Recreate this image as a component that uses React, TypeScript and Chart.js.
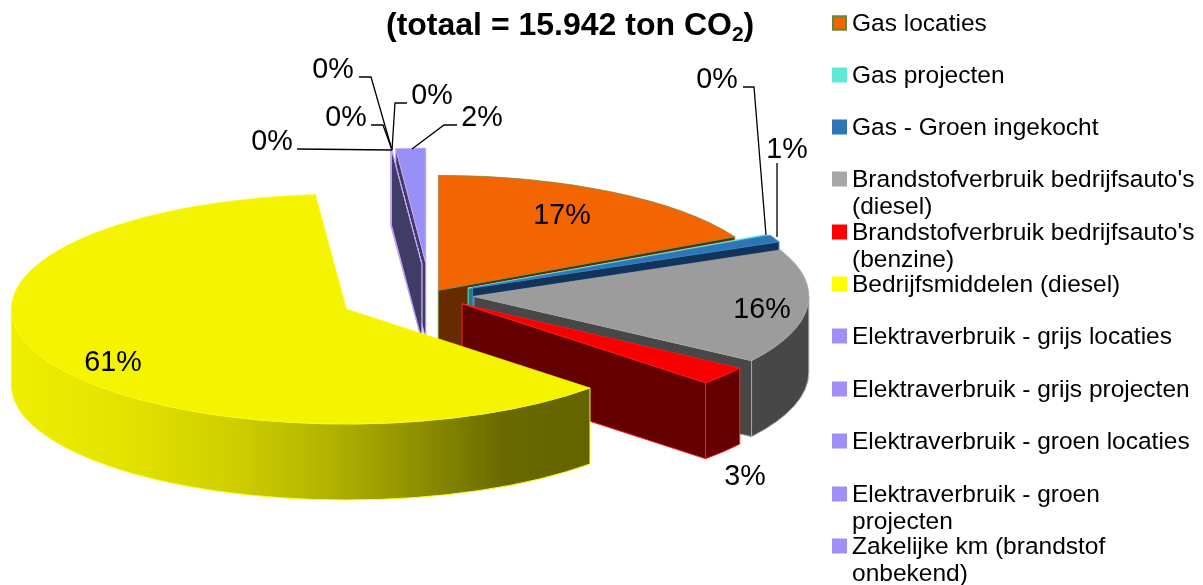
import React, { useEffect, useRef } from "react";
import { Chart, registerables, PieController } from "chart.js";

const categories = [
  "Gas locaties",
  "Gas projecten",
  "Gas - Groen ingekocht",
  "Brandstofverbruik bedrijfsauto's (diesel)",
  "Brandstofverbruik bedrijfsauto's (benzine)",
  "Bedrijfsmiddelen (diesel)",
  "Elektraverbruik - grijs locaties",
  "Elektraverbruik - grijs projecten",
  "Elektraverbruik - groen locaties",
  "Elektraverbruik - groen projecten",
  "Zakelijke km (brandstof onbekend)",
];
const shares = [17.3, 0.1, 1.0, 16.05, 2.6, 61.5, 0.01, 0.01, 0.01, 0.01, 1.43];
const shareLabels = ["17%", "0%", "1%", "16%", "3%", "61%", "0%", "0%", "0%", "0%", "2%"];
const topColors = ["#f36500", "#60e8d8", "#2e75b6", "#9c9c9c", "#f80000", "#f4f400", "#b49cf8", "#b49cf8", "#b49cf8", "#b49cf8", "#9890f6"];
const edgeColors = ["#6f8f4f", "#60e8d8", "#3a86c6", "#a8a8a8", "#ff2020", "#fafa20", "#c8a4fc", "#c8a4fc", "#c8a4fc", "#c8a4fc", "#cfa8ff"];
const wallColors = ["#662b00", "#2a7a72", "#12335a", "#474747", "#640000", "#666600", "#3f3c66", "#3f3c66", "#3f3c66", "#3f3c66", "#3f3c66"];
const legendColors = ["#f36500", "#60e8d8", "#2e75b6", "#a6a6a6", "#ff0000", "#ffff00", "#9f8ff7", "#9f8ff7", "#9f8ff7", "#9f8ff7", "#9f8ff7"];
const explode = [16, 43, 47, 44, 41, 93, 91, 91, 91, 91, 93];
const paintOrder = [10, 6, 7, 8, 9, 0, 1, 2, 3, 4, 5];

const legendLines = [
  ["Gas locaties"],
  ["Gas projecten"],
  ["Gas - Groen ingekocht"],
  ["Brandstofverbruik bedrijfsauto's", "(diesel)"],
  ["Brandstofverbruik bedrijfsauto's", "(benzine)"],
  ["Bedrijfsmiddelen (diesel)"],
  ["Elektraverbruik - grijs locaties"],
  ["Elektraverbruik - grijs projecten"],
  ["Elektraverbruik - groen locaties"],
  ["Elektraverbruik - groen", "projecten"],
  ["Zakelijke km (brandstof", "onbekend)"],
];
const legendRowY = [23, 75, 127, 179, 232, 284, 336, 389, 441, 494, 546];

// Layout of value labels: centre of text and optional leader polyline
const labelLayout: { x: number; y: number; leader?: number[][] }[] = [
  { x: 562, y: 215 },
  { x: 717, y: 79, leader: [[743, 87], [754, 87], [766, 235]] },
  { x: 787, y: 149, leader: [[777, 163], [777, 237]] },
  { x: 762, y: 309 },
  { x: 745, y: 476 },
  { x: 113, y: 362 },
  { x: 272, y: 141, leader: [[297, 149], [392, 150]] },
  { x: 346, y: 117, leader: [[371, 125], [383, 125], [392, 150]] },
  { x: 333, y: 69, leader: [[359, 77], [371, 77], [392, 150]] },
  { x: 432, y: 95, leader: [[407, 103], [395, 103], [392, 150]] },
  { x: 482, y: 117, leader: [[457, 125], [444, 125], [412, 149]] },
];

const FONT = '"Liberation Sans", Arial, sans-serif';
const SQUASH = 115 / 335;
const DEPTH = 76;

class Pie3DController extends PieController {
  static id = "pie3d";

  draw() {
    const ctx = this.chart.ctx;
    const arcs = this.getMeta().data as any[];
    for (const i of paintOrder) {
      const arc = arcs[i];
      const mid = (arc.startAngle + arc.endAngle) / 2;
      const d = explode[i];
      const ax = arc.x + Math.cos(mid) * d;
      const ay = arc.y + Math.sin(mid) * d * SQUASH;
      const R = arc.outerRadius;
      const r = R * SQUASH;
      const a = arc.startAngle;
      const b = arc.endAngle;

      let fill: any = wallColors[i];
      const stroke = edgeColors[i];
      ctx.save();
      ctx.lineWidth = 1;
      ctx.lineJoin = "round";
      ctx.strokeStyle = stroke;

      const quad = (ang: number) => {
        const ox = ax + Math.cos(ang) * R;
        const oy = ay + Math.sin(ang) * r;
        ctx.beginPath();
        ctx.moveTo(ax, ay);
        ctx.lineTo(ox, oy);
        ctx.lineTo(ox, oy + DEPTH);
        ctx.lineTo(ax, ay + DEPTH);
        ctx.closePath();
        ctx.fillStyle = wallColors[i];
        ctx.fill();
        ctx.stroke();
      };
      if (Math.cos(a) < 0) quad(a);
      if (Math.cos(b) > 0) quad(b);

      const ra = Math.max(a, 0);
      const rb = Math.min(b, Math.PI);
      if (rb > ra) {
        if (i === 5) {
          const g = ctx.createLinearGradient(ax - R, 0, ax + Math.cos(a) * R, 0);
          g.addColorStop(0, "#eeee00");
          g.addColorStop(0.2, "#e2e200");
          g.addColorStop(0.38, "#cfcf00");
          g.addColorStop(0.55, "#b2b200");
          g.addColorStop(0.68, "#949400");
          g.addColorStop(0.85, "#6a6a00");
          g.addColorStop(1, "#636300");
          fill = g;
        }
        ctx.beginPath();
        ctx.ellipse(ax, ay, R, r, 0, ra, rb, false);
        ctx.lineTo(ax + Math.cos(rb) * R, ay + Math.sin(rb) * r + DEPTH);
        ctx.ellipse(ax, ay + DEPTH, R, r, 0, rb, ra, true);
        ctx.closePath();
        ctx.fillStyle = fill;
        ctx.fill();
        ctx.stroke();
      }

      // top face drawn by the library's own arc element, squashed and exploded
      ctx.translate(ax, ay);
      ctx.scale(1, SQUASH);
      ctx.translate(-arc.x, -arc.y);
      arc.draw(ctx, this.chart.chartArea);
      ctx.restore();
    }
  }
}

const overlay = {
  id: "overlay",
  afterDraw(chart: any) {
    const ctx = chart.ctx;
    ctx.save();
    ctx.textBaseline = "alphabetic";
    ctx.textAlign = "left";

    // title
    ctx.fillStyle = "#000";
    ctx.font = `bold 32px ${FONT}`;
    const t1 = "(totaal = 15.942 ton CO";
    const w1 = ctx.measureText(t1).width;
    const tx = 386;
    ctx.fillText(t1, tx, 35);
    ctx.font = `bold 21px ${FONT}`;
    const w2 = ctx.measureText("2").width;
    ctx.fillText("2", tx + w1, 41);
    ctx.font = `bold 32px ${FONT}`;
    ctx.fillText(")", tx + w1 + w2, 35);

    // legend
    ctx.font = `24.5px ${FONT}`;
    categories.forEach((_, i) => {
      const y = legendRowY[i];
      ctx.fillStyle = legendColors[i];
      ctx.fillRect(832, y - 7.5, 15, 15);
      if (i === 0) {
        ctx.strokeStyle = "#5f8a45";
        ctx.lineWidth = 2;
        ctx.strokeRect(833, y - 6.5, 13, 13);
      }
      ctx.fillStyle = "#000";
      legendLines[i].forEach((line, j) => {
        ctx.fillText(line, 852, y + 8 + j * 27);
      });
    });

    // value labels
    ctx.font = `28.7px ${FONT}`;
    ctx.textAlign = "center";
    ctx.textBaseline = "middle";
    shareLabels.forEach((label, i) => {
      const l = labelLayout[i];
      ctx.fillStyle = "#000";
      ctx.fillText(label, l.x, l.y + 1);
      if (l.leader) {
        ctx.beginPath();
        l.leader.forEach((p, k) => (k ? ctx.lineTo(p[0], p[1]) : ctx.moveTo(p[0], p[1])));
        ctx.strokeStyle = "#000";
        ctx.lineWidth = 1.3;
        ctx.stroke();
      }
    });
    ctx.restore();
  },
};

Chart.register(...registerables, Pie3DController);

export default function App() {
  const ref = useRef<HTMLCanvasElement | null>(null);
  useEffect(() => {
    const chart = new Chart(ref.current as HTMLCanvasElement, {
      type: "pie3d" as any,
      data: {
        labels: categories,
        datasets: [
          {
            data: shares,
            backgroundColor: topColors,
            borderColor: edgeColors,
            borderWidth: 1,
            radius: 335,
            clip: false,
          } as any,
        ],
      },
      options: {
        animation: false,
        responsive: false,
        layout: { autoPadding: false, padding: { top: 5, right: 343, bottom: 0, left: 0 } },
        plugins: { legend: { display: false }, title: { display: false }, tooltip: { enabled: false } },
      } as any,
      plugins: [overlay],
    });
    return () => chart.destroy();
  }, []);
  return (
    <canvas
      ref={ref}
      width={1203}
      height={585}
      style={{ position: "absolute", left: 0, top: 0, width: 1203, height: 585, display: "block" }}
    />
  );
}
